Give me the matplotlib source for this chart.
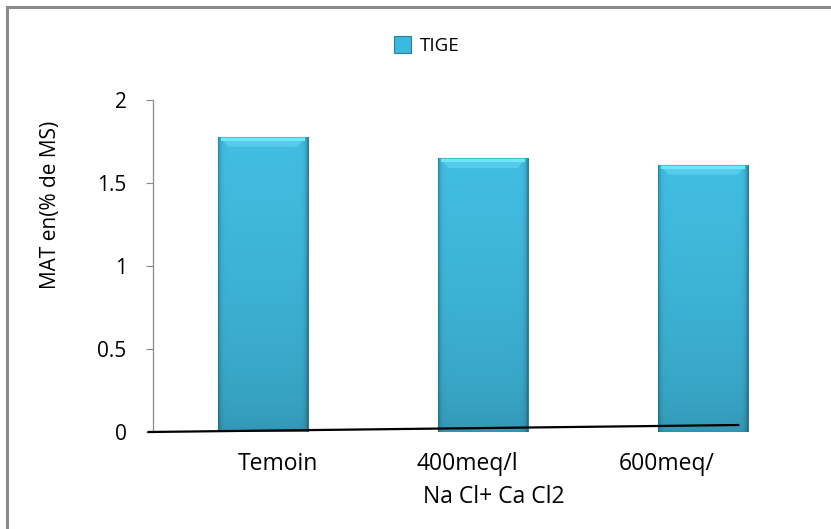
import matplotlib
matplotlib.use("Agg")
import matplotlib.pyplot as plt
import numpy as np
from matplotlib.patches import Rectangle, Polygon
from matplotlib.colors import to_rgb

categories = ["Temoin", "400meq/l\nNa Cl+ Ca Cl2", "600meq/"]
values = [1.78, 1.65, 1.61]
series_name = "TIGE"
y_ticks = [0, 0.5, 1, 1.5, 2]
y_tick_labels = ["0", "0.5", "1", "1.5", "2"]
ylabel = "MAT en(% de MS)"
# decorative sloped base line (data coords)
line_x = [-0.52, 2.16]
line_y = [0.0, 0.042]

plt.rcParams['font.family'] = ['Open Sans', 'DejaVu Sans']

W, H = 831, 529
fig = plt.figure(figsize=(W / 100, H / 100), dpi=100)
ax = fig.add_axes([153 / W, 1 - 432 / H, 660 / W, 332 / H])

# figure frame (grey border, cut at right/bottom)
fig.patches.append(Rectangle((7 / W, -0.1), 1.2, (H - 7) / H + 0.1,
                             transform=fig.transFigure, fill=False,
                             edgecolor='#8a8a8a', linewidth=2.2))

x = np.arange(len(categories))
width = 0.405
bars = ax.bar(x, values, width=width, color='#3cb9de', edgecolor='#2a7f99',
              linewidth=0.8, zorder=2, label=series_name)

top_c = np.array(to_rgb('#41bee2'))
bot_c = np.array(to_rgb('#3294b2'))
px_y = 1 / 166.0
px_x = 1 / 220.0
for b in bars:
    bx, by = b.get_x(), b.get_y()
    bw, bh = b.get_width(), b.get_height()
    n = 200
    v = np.linspace(0, 1, n)[:, None, None]        # 0 bottom -> 1 top
    base = bot_c + (top_c - bot_c) * np.sqrt(v)     # (n,1,3)
    hx = np.linspace(0, 1, 90)
    edge = np.minimum(hx, 1 - hx) * 90
    fac = 1 - 0.28 * np.exp(-edge / 2.0)
    img = base * fac[None, :, None]
    im = ax.imshow(np.clip(img, 0, 1), extent=[bx, bx + bw, by, by + bh],
                   aspect='auto', origin='lower', zorder=2.1,
                   interpolation='bilinear')
    im.set_clip_path(b)
    # top bevel
    top = by + bh
    ax.add_patch(Polygon([[bx + 2 * px_x, top - 1 * px_y],
                          [bx + bw - 2 * px_x, top - 1 * px_y],
                          [bx + bw - 10 * px_x, top - 10 * px_y],
                          [bx + 10 * px_x, top - 10 * px_y]],
                         closed=True, facecolor='#55cdea', edgecolor='none',
                         zorder=2.3))
    ax.add_patch(Rectangle((bx + 3 * px_x, top - 4 * px_y), bw - 6 * px_x,
                           3 * px_y, facecolor='#70e6fb', edgecolor='none',
                           zorder=2.4))

ax.plot(line_x, line_y, color='black', linewidth=1.6, zorder=3, clip_on=False)

ax.set_xlim(-0.5, 2.5)
ax.set_ylim(0, 2)
ax.set_yticks(y_ticks)
ax.set_yticklabels(y_tick_labels, fontsize=15)
ax.set_xticks(x)
ax.set_xticklabels([""] * len(categories))
ax.tick_params(axis='x', length=0)
ax.tick_params(axis='y', direction='out', length=5, color='#8a8a8a', pad=14)

for s in ['top', 'right', 'bottom']:
    ax.spines[s].set_visible(False)
ax.spines['left'].set_color('#8a8a8a')
ax.spines['left'].set_linewidth(0.9)

ax.set_ylabel(ylabel, fontsize=15)
ax.yaxis.set_label_coords(-0.14, 0.684)

# category labels
label_offsets = {0: [0.07], 1: [-0.07, 0.05], 2: [-0.166]}
line_y_pos = [-0.193, -0.39]
for i, cat in enumerate(categories):
    for j, p in enumerate(cat.split("\n")):
        ax.text(i + label_offsets[i][j], line_y_pos[j], p, ha='center',
                va='center', fontsize=16.5, clip_on=False)

leg = ax.legend(loc='center', bbox_to_anchor=(0.415, 1.163), frameon=False,
                fontsize=13.5, handlelength=0.9, handleheight=1.0,
                handletextpad=0.5)

fig.savefig("out.png", dpi=100)
